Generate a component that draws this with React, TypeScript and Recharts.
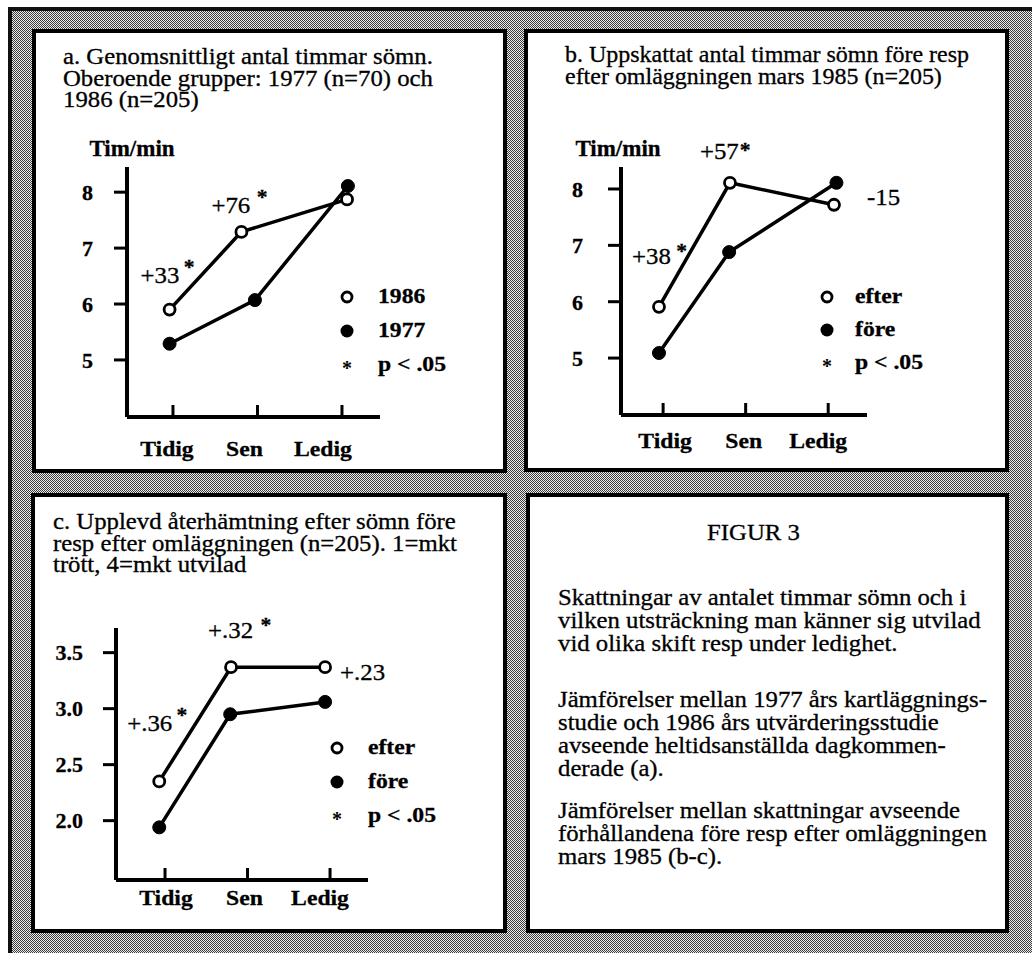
import React from "react";
import { LineChart, Line, XAxis, YAxis, Legend, LabelList } from "recharts";

const FONT = '"Liberation Serif", "Times New Roman", Times, serif';

// shifts on the x axis
const shifts = ["Tidig", "Sen", "Ledig"];
const shiftTicks = [1, 2, 3];
const hourTicks = [5, 6, 7, 8];
const restTicks = [2.0, 2.5, 3.0, 3.5];

// a. average hours of sleep, 1986 vs 1977
const a1986 = [5.9, 7.29, 7.87];
const a1986X = [0.96, 1.81, 3.06];
const a1977 = [5.29, 6.07, 8.11];
const a1977X = [0.96, 1.97, 3.07];
const aDiff = ["+33", "+76", ""];
const aSig = [true, true, false];

// b. estimated hours of sleep, before / after
const bEfter = [5.91, 8.11, 7.72];
const bEfterX = [0.95, 1.81, 3.07];
const bFore = [5.09, 6.88, 8.11];
const bForeX = [0.95, 1.8, 3.1];
const bDiff = ["+38", "+57", "-15"];
const bSig = [true, true, false];

// c. recovery after sleep, 1-4 scale
const cEfter = [2.35, 3.37, 3.37];
const cEfterX = [0.93, 1.8, 2.94];
const cFore = [1.94, 2.95, 3.06];
const cForeX = [0.93, 1.79, 2.94];
const cDiff = ["+.36", "+.32", "+.23"];
const cSig = [true, true, false];

type Pt = { x: number; y: number; diff?: string };

const toPoints = (xs: number[], ys: number[], diff?: string[]): Pt[] =>
  xs.map((x, i) => ({ x, y: ys[i], diff: diff ? diff[i] : undefined }));

// text offsets for the difference notes, relative to the upper point
type Note = { dx: number; dy: number; sdx: number; sdy: number } | null;

const charts = [
  {
    key: "a",
    left: 40,
    top: 120,
    width: 440,
    height: 350,
    margin: { top: 47, right: 100, bottom: 8, left: 47 },
    xDomain: [0.456, 3.45],
    labelDx: [-6, -13, -19],
    labelGap: 39,
    yDomain: [3.98, 8.45],
    yTicks: hourTicks,
    yFormat: (v: number) => String(v),
    tickGap: 21,
    yTitle: true,
    yTitleDx: 25,
    filled: { name: "1977", data: toPoints(a1977X, a1977) },
    open: { name: "1986", data: toPoints(a1986X, a1986, aDiff) },
    sig: aSig,
    notes: [
      { dx: -29, dy: -27, sdx: 4, sdy: -9 },
      { dx: -30, dy: -19, sdx: 6, sdy: -9 },
      null,
    ] as Note[],
    legend: { left: 299, top: 160, row: 34, gap: 23 },
  },
  {
    key: "b",
    left: 540,
    top: 120,
    width: 450,
    height: 350,
    margin: { top: 47, right: 123, bottom: 10, left: 41 },
    xDomain: [0.49, 3.47],
    labelDx: [2, -2, -10],
    labelGap: 33,
    yDomain: [3.99, 8.39],
    yTicks: hourTicks,
    yFormat: (v: number) => String(v),
    tickGap: 25,
    yTitle: true,
    yTitleDx: 17,
    filled: { name: "före", data: toPoints(bForeX, bFore) },
    open: { name: "efter", data: toPoints(bEfterX, bEfter, bDiff) },
    sig: bSig,
    notes: [
      { dx: -27, dy: -43, sdx: 5, sdy: -6 },
      { dx: -30, dy: -24, sdx: 1, sdy: -2 },
      { dx: 33, dy: 0, sdx: 0, sdy: 0 },
    ] as Note[],
    legend: { left: 279, top: 160, row: 33, gap: 20 },
  },
  {
    key: "c",
    left: 30,
    top: 590,
    width: 450,
    height: 335,
    margin: { top: 38, right: 112, bottom: 0, left: 46 },
    xDomain: [0.406, 3.46],
    labelDx: [1, -3, -10],
    labelGap: 25,
    yDomain: [1.47, 3.72],
    yTicks: restTicks,
    yFormat: (v: number) => v.toFixed(1),
    tickGap: 20,
    yTitle: false,
    yTitleDx: 0,
    filled: { name: "före", data: toPoints(cForeX, cFore) },
    open: { name: "efter", data: toPoints(cEfterX, cEfter, cDiff) },
    sig: cSig,
    notes: [
      { dx: -32, dy: -50, sdx: 4, sdy: -9 },
      { dx: -23, dy: -29, sdx: 7, sdy: -6 },
      { dx: 15, dy: 13, sdx: 0, sdy: 0 },
    ] as Note[],
    legend: { left: 299, top: 141, row: 34, gap: 23 },
  },
];

type ChartCfg = (typeof charts)[number];

// svg text widened a little, the scan is stretched sideways
const wide = (x: number, y: number, k = 1.1) =>
  `translate(${x} ${y}) scale(${k} 1) translate(${-x} ${-y})`;

const ShiftTick = (p: any, cfg: ChartCfg) => {
  const i = Math.round(p.payload.value) - 1;
  const lx = p.x + cfg.labelDx[i];
  const ly = p.y + cfg.labelGap;
  return (
    <g>
      <line x1={p.x} x2={p.x} y1={p.y} y2={p.y - 12} stroke="#000" strokeWidth={3} />
      <text
        x={lx}
        y={ly}
        transform={wide(lx, ly)}
        textAnchor="middle"
        fill="#000"
        stroke="#000"
        strokeWidth={0.3}
        fontSize={21.5}
        fontWeight={700}
        fontFamily={FONT}
      >
        {shifts[i]}
      </text>
    </g>
  );
};

const LegendBox = ({ cfg }: { cfg: ChartCfg }) => {
  const { row, gap } = cfg.legend;
  const items = [
    { kind: "open", text: cfg.open.name },
    { kind: "filled", text: cfg.filled.name },
    { kind: "star", text: "p < .05" },
  ];
  return (
    <div style={{ fontFamily: FONT, fontWeight: 700, fontSize: 21.5, color: "#000" }}>
      {items.map((it) => (
        <div key={it.kind} style={{ display: "flex", alignItems: "center", height: row }}>
          <svg width={16} height={16} style={{ overflow: "visible" }}>
            {it.kind === "open" && (
              <circle cx={8} cy={8} r={5} fill="#fff" stroke="#000" strokeWidth={2.8} />
            )}
            {it.kind === "filled" && <circle cx={8} cy={8} r={6.5} fill="#000" />}
            {it.kind === "star" && (
              <text x={8} y={18} textAnchor="middle" fontSize={20} fontWeight={700} fontFamily={FONT}>
                *
              </text>
            )}
          </svg>
          <span
            style={{
              marginLeft: gap,
              lineHeight: 1,
              display: "inline-block",
              transform: "scaleX(1.1)",
              transformOrigin: "left center",
              WebkitTextStroke: "0.3px #000",
            }}
          >
            {it.text}
          </span>
        </div>
      ))}
    </div>
  );
};

const SleepChart = ({ cfg }: { cfg: ChartCfg }) => {
  const renderNote = (p: any) => {
    const i = p.index;
    const note = cfg.notes[i];
    const x = p.x ?? p.viewBox?.x;
    const y = p.y ?? p.viewBox?.y;
    if (!note || !p.value) return null;
    const tx = x + note.dx;
    const ty = y + note.dy;
    return (
      <text
        x={tx}
        y={ty}
        transform={wide(tx, ty, 1.08)}
        fill="#000"
        stroke="#000"
        strokeWidth={0.3}
        fontSize={23}
        fontFamily={FONT}
      >
        {p.value}
        {cfg.sig[i] && (
          <tspan dx={note.sdx} dy={note.sdy} fontSize={20} fontWeight={700}>
            *
          </tspan>
        )}
      </text>
    );
  };

  return (
    <div style={{ position: "absolute", left: cfg.left, top: cfg.top }}>
      <LineChart width={cfg.width} height={cfg.height} margin={cfg.margin}>
        <XAxis
          type="number"
          dataKey="x"
          domain={cfg.xDomain}
          ticks={shiftTicks}
          allowDataOverflow
          interval={0}
          height={45}
          tickSize={0}
          tickMargin={0}
          tickLine={false}
          axisLine={{ stroke: "#000", strokeWidth: 4 }}
          tick={(p: any) => ShiftTick(p, cfg)}
        />
        <YAxis
          type="number"
          domain={cfg.yDomain}
          ticks={cfg.yTicks}
          allowDataOverflow
          interval={0}
          width={40}
          tickSize={13}
          tickMargin={cfg.tickGap}
          tickLine={{ stroke: "#000", strokeWidth: 3 }}
          axisLine={{ stroke: "#000", strokeWidth: 4 }}
          tick={{ fill: "#000", stroke: "#000", strokeWidth: 0.3, fontSize: 22, fontWeight: 700, fontFamily: FONT }}
          tickFormatter={cfg.yFormat}
          label={
            cfg.yTitle
              ? {
                  value: "Tim/min",
                  position: "top",
                  offset: 11,
                  dx: cfg.yTitleDx,
                  fill: "#000",
                  stroke: "#000",
                  strokeWidth: 0.3,
                  fontSize: 23,
                  fontWeight: 700,
                  fontFamily: FONT,
                }
              : undefined
          }
        />
        <Line
          data={cfg.filled.data}
          dataKey="y"
          name={cfg.filled.name}
          type="linear"
          stroke="#000"
          strokeWidth={3.5}
          dot={{ r: 6.5, fill: "#000", stroke: "#000", strokeWidth: 1 }}
          activeDot={false}
          isAnimationActive={false}
        />
        <Line
          data={cfg.open.data}
          dataKey="y"
          name={cfg.open.name}
          type="linear"
          stroke="#000"
          strokeWidth={3.5}
          dot={{ r: 5.5, fill: "#fff", stroke: "#000", strokeWidth: 2.8 }}
          activeDot={false}
          isAnimationActive={false}
        >
          <LabelList dataKey="diff" content={renderNote} />
        </Line>
        <Legend
          layout="vertical"
          align="center"
          verticalAlign="middle"
          wrapperStyle={{ left: cfg.legend.left, top: cfg.legend.top, width: "auto" }}
          content={() => <LegendBox cfg={cfg} />}
        />
      </LineChart>
    </div>
  );
};

const texture: React.CSSProperties = {
  backgroundColor: "#9a9a9a",
  backgroundImage: "repeating-conic-gradient(#3c3c3c 0% 25%, #ececec 0% 50%)",
  backgroundSize: "2px 2px",
};

const panelStyle = (left: number, top: number, width: number, height: number): React.CSSProperties => ({
  position: "absolute",
  left,
  top,
  width,
  height,
  boxSizing: "border-box",
  border: "4px solid #000",
  background: "#fff",
});

const textStyle: React.CSSProperties = {
  position: "absolute",
  fontFamily: FONT,
  fontSize: 22.5,
  lineHeight: "21.5px",
  color: "#000",
  whiteSpace: "nowrap",
  transform: "scaleX(1.1)",
  transformOrigin: "left top",
  WebkitTextStroke: "0.3px #000",
};

const App = () => (
  <div style={{ position: "relative", width: 1032, height: 953, background: "#fff", overflow: "hidden" }}>
    <style>{"body{margin:0}"}</style>
    <div
      style={{
        position: "absolute",
        left: 8,
        top: 7,
        right: 0,
        bottom: 0,
        borderTop: "4px solid #111",
        borderLeft: "4px solid #111",
        ...texture,
      }}
    />
    <div style={panelStyle(32, 29, 475, 444)} />
    <div style={panelStyle(524, 29, 485, 443)} />
    <div style={panelStyle(31, 493, 476, 440)} />
    <div style={panelStyle(526, 493, 483, 440)} />

    <div style={{ ...textStyle, left: 63, top: 46 }}>
      a. Genomsnittligt antal timmar sömn.
      <br />
      Oberoende grupper: 1977 (n=70) och
      <br />
      1986 (n=205)
    </div>
    <div style={{ ...textStyle, left: 565, top: 44, transform: "scaleX(1.065)" }}>
      b. Uppskattat antal timmar sömn före resp
      <br />
      efter omläggningen mars 1985 (n=205)
    </div>
    <div style={{ ...textStyle, left: 53, top: 511 }}>
      c. Upplevd återhämtning efter sömn före
      <br />
      resp efter omläggningen (n=205). 1=mkt
      <br />
      trött, 4=mkt utvilad
    </div>

    <div style={{ ...textStyle, lineHeight: "23px", left: 707, top: 521 }}>FIGUR 3</div>
    <div style={{ ...textStyle, lineHeight: "23px", left: 558, top: 586 }}>
      Skattningar av antalet timmar sömn och i
      <br />
      vilken utsträckning man känner sig utvilad
      <br />
      vid olika skift resp under ledighet.
    </div>
    <div style={{ ...textStyle, lineHeight: "23px", left: 558, top: 688 }}>
      Jämförelser mellan 1977 års kartläggnings-
      <br />
      studie och 1986 års utvärderingsstudie
      <br />
      avseende heltidsanställda dagkommen-
      <br />
      derade (a).
    </div>
    <div style={{ ...textStyle, lineHeight: "23px", left: 558, top: 799 }}>
      Jämförelser mellan skattningar avseende
      <br />
      förhållandena före resp efter omläggningen
      <br />
      mars 1985 (b-c).
    </div>

    {charts.map((cfg) => (
      <SleepChart key={cfg.key} cfg={cfg} />
    ))}
  </div>
);

export default App;
